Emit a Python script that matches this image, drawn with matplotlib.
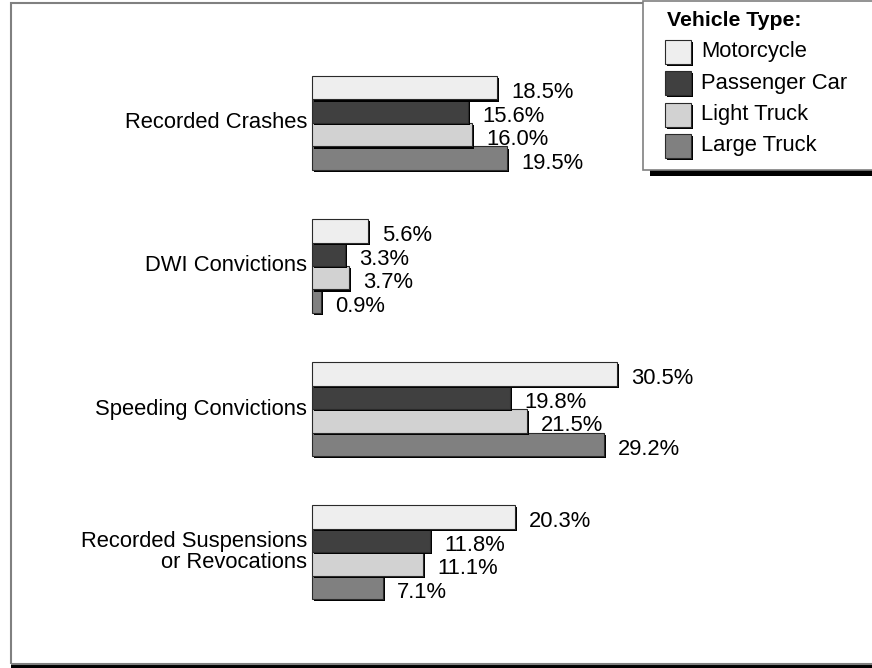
import matplotlib
matplotlib.use("Agg")
import matplotlib.pyplot as plt
import matplotlib.patheffects as pe
from matplotlib.patches import Rectangle

plt.rcParams["font.family"] = ["Liberation Sans", "DejaVu Sans"]

# Data
categories = [
    "Recorded Crashes",
    "DWI Convictions",
    "Speeding Convictions",
    "Recorded Suspensions\nor Revocations",
]
vehicle_types = ["Motorcycle", "Passenger Car", "Light Truck", "Large Truck"]
motorcycle = [18.5, 5.6, 30.5, 20.3]
passenger_car = [15.6, 3.3, 19.8, 11.8]
light_truck = [16.0, 3.7, 21.5, 11.1]
large_truck = [19.5, 0.9, 29.2, 7.1]
series = [motorcycle, passenger_car, light_truck, large_truck]
colors = ["#eeeeee", "#404040", "#d2d2d2", "#808080"]

W, H = 872, 668
fig = plt.figure(figsize=(W / 100, H / 100), dpi=100)
ax = fig.add_axes([0, 0, 1, 1])
ax.set_xlim(-31.2, 56.0)
ax.set_ylim(3.811, -0.860)
ax.axis("off")

shadow = [pe.SimplePatchShadow(offset=(1.5, -1.5), shadow_rgbFace="black", alpha=1.0), pe.Normal()]

h = 0.1643
fs = 15.8
for k, (vals, col) in enumerate(zip(series, colors)):
    ys = [g - 1.5 * h + k * h for g in range(len(categories))]
    ax.barh(ys, vals, height=h, color=col, edgecolor="#2a2a2a", linewidth=0.8,
            path_effects=shadow, zorder=3 - k * 0.1)
    for y, v in zip(ys, vals):
        ax.text(v + 1.4, y + 0.035, f"{v:.1f}%", ha="left", va="center", fontsize=fs, zorder=5)

for g, cat in enumerate(categories):
    ax.text(-0.5, g, cat, ha="right", va="center", fontsize=fs, linespacing=1.05)


def px(x, y):
    return (x / W, 1 - y / H)


def frame_rect(x0, y0, x1, y1, **kw):
    fx0, fy1 = px(x0, y1)
    fx1, fy0 = px(x1, y0)
    r = Rectangle((fx0, fy1), fx1 - fx0, fy0 - fy1, transform=fig.transFigure, **kw)
    fig.add_artist(r)
    return r


# outer frame with shadow
frame_rect(11, 665, 880, 669, facecolor="black", edgecolor="none")
frame_rect(11, 3, 880, 664, facecolor="none", edgecolor="#808080", linewidth=1.5)

# legend box with shadow
frame_rect(650, 170, 880, 176, facecolor="black", edgecolor="none", zorder=4)
frame_rect(643, 1, 880, 170, facecolor="white", edgecolor="#808080", linewidth=1.2, zorder=5)

fig.text(*px(667, 21), "Vehicle Type:", ha="left", va="center", fontsize=fs - 0.5,
         fontweight="bold", zorder=6)
for i, (name, col) in enumerate(zip(vehicle_types, colors)):
    cy = 52 + i * 31.3
    sw = frame_rect(665, cy - 12, 691, cy + 12, facecolor=col, edgecolor="#2a2a2a",
                    linewidth=0.8, zorder=6)
    sw.set_path_effects(shadow)
    fig.text(*px(701, cy), name, ha="left", va="center", fontsize=fs, zorder=6)

fig.savefig("out.png", dpi=100)
